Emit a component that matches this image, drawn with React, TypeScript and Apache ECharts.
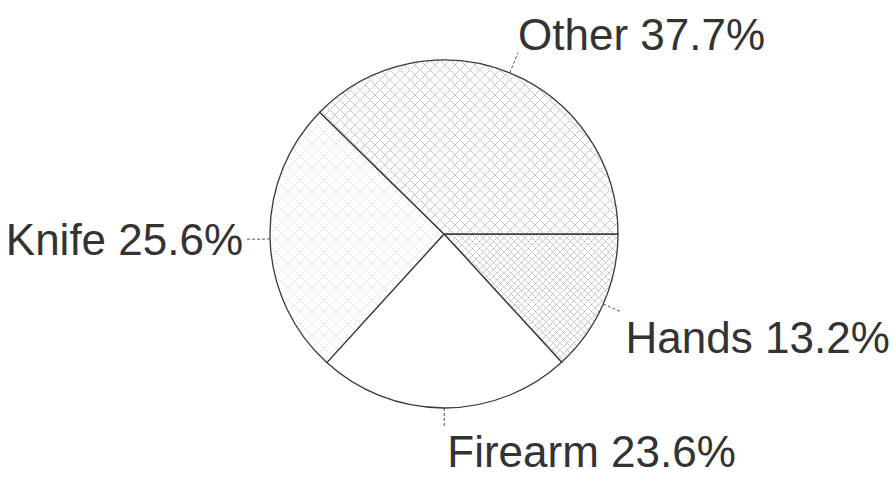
import React, { useEffect, useRef } from "react";
import * as echarts from "echarts";

const categories = ["Hands", "Firearm", "Knife", "Other"];
const percents = [13.2, 23.6, 25.6, 37.7];

function hatch(size: number, color: string, width: number, cross: boolean, dash?: number[]) {
  const c = document.createElement("canvas");
  c.width = size;
  c.height = size;
  const ctx = c.getContext("2d")!;
  ctx.fillStyle = "#ffffff";
  ctx.fillRect(0, 0, size, size);
  ctx.strokeStyle = color;
  ctx.lineWidth = width;
  if (dash) ctx.setLineDash(dash);
  ctx.beginPath();
  ctx.moveTo(-1, -1);
  ctx.lineTo(size + 1, size + 1);
  if (cross) {
    ctx.moveTo(size + 1, -1);
    ctx.lineTo(-1, size + 1);
  }
  ctx.stroke();
  return c;
}

function pattern(c: HTMLCanvasElement) {
  return { image: c, repeat: "repeat", imageWidth: c.width, imageHeight: c.height } as any;
}

export default function App() {
  const ref = useRef<HTMLDivElement>(null);
  useEffect(() => {
    if (!ref.current) return;
    const chart = echarts.init(ref.current, undefined, { renderer: "svg" });
    const fills = [
      pattern(hatch(7, "rgba(90,90,90,0.45)", 1, true, [2, 1])),
      "#ffffff",
      pattern(hatch(12, "rgba(120,120,120,0.28)", 1, true, [2, 2])),
      pattern(hatch(10, "rgba(80,80,80,0.45)", 1, true, [2, 1])),
    ];
    // label placement relative to label-line end: [dx, dy, align]
    const place: [number, number, string][] = [
      [4, 25, "left"],
      [3, 24, "left"],
      [-2, 0, "right"],
      [0, -18, "left"],
    ];
    const lens: [number, number][] = [
      [20, 0],
      [20, 0],
      [10, 15],
      [22, 0],
    ];
    chart.setOption({
      animation: false,
      backgroundColor: "#ffffff",
      series: [
        {
          type: "pie",
          center: [444, 234],
          radius: 174,
          startAngle: 0,
          clockwise: true,
          avoidLabelOverlap: false,
          itemStyle: { borderColor: "#3a3a3a", borderWidth: 1.3 },
          label: {
            show: true,
            position: "outside",
            formatter: "{b} {c}%",
            fontFamily: "Liberation Sans",
            fontSize: 44,
            color: "#333333",
          },
          labelLine: {
            show: true,
            lineStyle: { color: "#555555", width: 1, type: [3, 2] },
          },
          emphasis: { disabled: true },
          labelLayout: (p: any) => {
            const i = p.dataIndex;
            const pts = p.labelLinePoints;
            if (!pts) return {};
            const end = pts[pts.length - 1];
            const [dx, dy, align] = place[i];
            return {
              x: end[0] + dx,
              y: end[1] + dy,
              align,
              verticalAlign: "middle",
              labelLinePoints: pts,
            };
          },
          data: categories.map((name, i) => ({
            name,
            value: percents[i],
            itemStyle: { color: fills[i] },
            labelLine: { length: lens[i][0], length2: lens[i][1] },
          })),
        },
      ],
    });
    return () => chart.dispose();
  }, []);
  return (
    <div
      ref={ref}
      style={{ position: "fixed", left: 0, top: 0, width: 896, height: 477, background: "#fff" }}
    />
  );
}
